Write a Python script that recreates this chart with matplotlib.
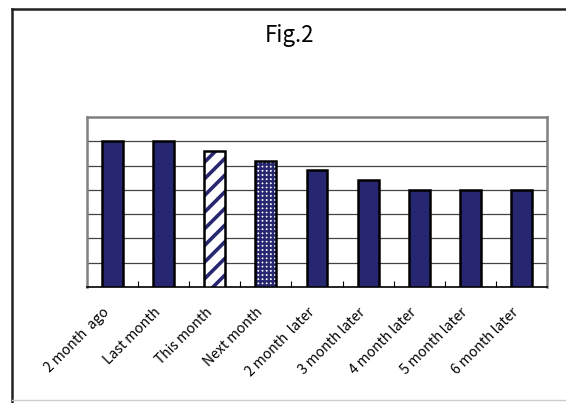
import matplotlib
matplotlib.use("Agg")
import matplotlib.pyplot as plt
import matplotlib.transforms as mtransforms
from matplotlib.lines import Line2D

plt.rcParams['font.family'] = ['Noto Sans CJK JP', 'DejaVu Sans']

# data
categories = ["2 month  ago", "Last month", "This month", "Next month",
              "2 month  later", "3 month later", "4 month later",
              "5 month later", "6 month later"]
values = [6.0, 6.0, 5.6, 5.2, 4.8, 4.4, 4.0, 4.0, 4.0]
patterns = ["solid", "solid", "stripe", "check", "solid", "solid",
            "solid", "solid", "solid"]

navy = "#262770"

fig = plt.figure(figsize=(5.66, 4.03), dpi=100)
ax = fig.add_axes([0.1537, 0.2878, 0.8127, 0.4219])

x = list(range(len(categories)))
for xi, v, p in zip(x, values, patterns):
    if p == "solid":
        ax.bar(xi, v, width=0.41, color=navy, edgecolor="black", linewidth=1.8, zorder=3)
    else:
        hatch = "//" if p == "stripe" else "++++"
        plt.rcParams['hatch.linewidth'] = 2.6 if p == "stripe" else 1.7
        ax.bar(xi, v, width=0.41, color="white", edgecolor=navy, hatch=hatch,
               linewidth=0, zorder=3)
        ax.bar(xi, v, width=0.41, color="none", edgecolor="black", linewidth=1.8, zorder=4)

ax.set_xlim(-0.5, len(categories) - 0.5)
ax.set_ylim(0, 7)
ax.set_yticks(range(1, 7))
ax.yaxis.grid(True, color="#444444", linewidth=0.9)
ax.tick_params(axis="y", length=0, labelleft=False)
ax.set_axisbelow(True)

ax.set_xticks(x)
ax.set_xticklabels(categories, rotation=45, ha="right", rotation_mode="anchor", fontsize=10)
ax.tick_params(axis="x", which="major", length=0, pad=13)
ax.set_xticks([i + 0.5 for i in x[:-1]], minor=True)
ax.tick_params(axis="x", which="minor", direction="in", length=4, width=0.8)
offset = mtransforms.ScaledTranslation(-0.10, 0, fig.dpi_scale_trans)
for lab in ax.get_xticklabels():
    lab.set_transform(lab.get_transform() + offset)

for side in ["left", "right", "top"]:
    ax.spines[side].set_color("#808080")
    ax.spines[side].set_linewidth(1.8)
ax.spines["bottom"].set_color("black")
ax.spines["bottom"].set_linewidth(1.2)

fig.text(0.512, 0.913, "Fig.2", ha="center", va="center", fontsize=16)

# outer chart frame (cropped in the reference)
fig.add_artist(Line2D([12 / 566, 12 / 566], [0, 1 - 9 / 403], color="#222222", lw=1.8))
fig.add_artist(Line2D([12 / 566, 1], [1 - 9 / 403, 1 - 9 / 403], color="#222222", lw=1.8))
fig.add_artist(Line2D([12 / 566, 1], [3 / 403, 3 / 403], color="#cccccc", lw=1))

fig.savefig("out.png", dpi=100)
